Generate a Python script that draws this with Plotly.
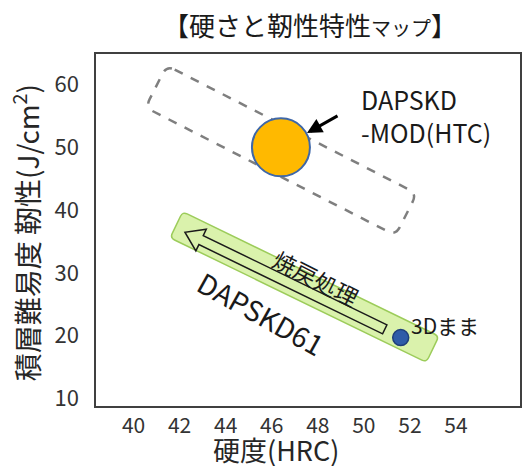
import math
import plotly.graph_objects as go

# ---- data ----
x_ticks = [40, 42, 44, 46, 48, 50, 52, 54]
y_ticks = [10, 20, 30, 40, 50, 60]
mod_hardness = [46.4]
mod_toughness = [50.0]
base_hardness = [51.6]
base_toughness = [19.7]

title_main = "【硬さと靭性特性"
title_small = "マップ"
label_mod = "DAPSKD<br>-MOD(HTC)"
label_61 = "DAPSKD61"
label_temper = "焼戻処理"
label_3d = "3Dまま"
x_title = "硬度(HRC)"
y_title = "積層難易度 靭性(J/cm<sup>2</sup>)"

# ---- layout geometry ----
W, H = 525, 466
ML, MR, MT, MB = 96, 3, 54, 60
XR = [38.37, 56.78]
YR = [8.8, 64.87]
PW = W - ML - MR
PH = H - MT - MB
FONT = "Noto Sans CJK JP"


def to_px(x, y):
    px = ML + (x - XR[0]) / (XR[1] - XR[0]) * PW
    py = MT + (YR[1] - y) / (YR[1] - YR[0]) * PH
    return px, py


def to_data(px, py):
    x = XR[0] + (px - ML) / PW * (XR[1] - XR[0])
    y = YR[1] - (py - MT) / PH * (YR[1] - YR[0])
    return x, y


def pap_x(px):
    return (px - ML) / PW


def pap_y(py):
    return (H - MB - py) / PH


def local_to_data(c, ang, s, t):
    cx, cy = to_px(*c)
    u = (math.cos(math.radians(ang)), math.sin(math.radians(ang)))
    n = (-u[1], u[0])
    return to_data(cx + s * u[0] + t * n[0], cy + s * u[1] + t * n[1])


def rounded_rect_path(c, ang, a, b, r):
    def P(s, t):
        x, y = local_to_data(c, ang, s, t)
        return f"{x:.4f},{y:.4f}"
    p = f"M {P(-a + r, -b)} L {P(a - r, -b)} Q {P(a, -b)} {P(a, -b + r)} "
    p += f"L {P(a, b - r)} Q {P(a, b)} {P(a - r, b)} "
    p += f"L {P(-a + r, b)} Q {P(-a, b)} {P(-a, b - r)} "
    p += f"L {P(-a, -b + r)} Q {P(-a, -b)} {P(-a + r, -b)} Z"
    return p


def block_arrow_path(c, ang, s_tail, s_tip, t0, hw_shaft, hw_head, head_len):
    sb = s_tip + head_len
    pts = [(s_tail, t0 - hw_shaft), (sb, t0 - hw_shaft), (sb, t0 - hw_head),
           (s_tip, t0), (sb, t0 + hw_head), (sb, t0 + hw_shaft), (s_tail, t0 + hw_shaft)]
    out = []
    for i, (s, t) in enumerate(pts):
        x, y = local_to_data(c, ang, s, t)
        out.append(("M " if i == 0 else "L ") + f"{x:.4f},{y:.4f}")
    return " ".join(out) + " Z"


dash_center = to_data(282, 150.5)
band_center = to_data(305.5, 287)

fig = go.Figure()

fig.add_trace(go.Scatter(
    x=mod_hardness, y=mod_toughness, mode="markers",
    marker=dict(size=58, color="#FFB900", line=dict(color="#3E67A8", width=2)),
    hoverinfo="skip", showlegend=False))
fig.add_trace(go.Scatter(
    x=base_hardness, y=base_toughness, mode="markers",
    marker=dict(size=16, color="#2F5CA8", line=dict(color="#1F3F7A", width=1.5)),
    hoverinfo="skip", showlegend=False))

shapes = [
    dict(type="path", path=rounded_rect_path(dash_center, 27, 141, 23.5, 9),
         line=dict(color="#7F7F7F", width=2.5, dash="dash"),
         fillcolor="rgba(0,0,0,0)", layer="below", xref="x", yref="y"),
    dict(type="path", path=rounded_rect_path(band_center, 25.8, 143, 14.5, 5),
         line=dict(color="#9CCC5A", width=1.5),
         fillcolor="#DAF2AC", layer="below", xref="x", yref="y"),
    dict(type="path", path=block_arrow_path(band_center, 25.8, 91, -132, 3, 5, 12, 18),
         line=dict(color="#1A1A1A", width=1.5),
         fillcolor="rgba(0,0,0,0)", layer="below", xref="x", yref="y"),
]

txt = "#1A1A1A"
annotations = [
    dict(x=pap_x(311), y=pap_y(24), xref="paper", yref="paper",
         text=title_main + f"<span style='font-size:20px'>{title_small}</span>】",
         showarrow=False, font=dict(size=26, color=txt, family=FONT),
         xanchor="center", yanchor="middle"),
    dict(x=pap_x(25), y=pap_y(233), xref="paper", yref="paper",
         text=y_title, textangle=-90, showarrow=False,
         font=dict(size=28, color="#262626", family=FONT),
         xanchor="center", yanchor="middle"),
    dict(x=pap_x(277), y=pap_y(449), xref="paper", yref="paper",
         text=x_title, showarrow=False,
         font=dict(size=27, color="#262626", family=FONT),
         xanchor="center", yanchor="middle"),
    dict(x=to_data(360, 115)[0], y=to_data(360, 115)[1], text=label_mod,
         showarrow=False, align="left", xanchor="left", yanchor="middle",
         font=dict(size=25, color=txt, family=FONT)),
    dict(x=to_data(308, 133)[0], y=to_data(308, 133)[1], text="",
         showarrow=True, ax=32, ay=-18, arrowhead=2, arrowsize=1,
         arrowwidth=3, arrowcolor="#000000"),
    dict(x=to_data(262, 313)[0], y=to_data(262, 313)[1], text=label_61,
         textangle=29, showarrow=False,
         font=dict(size=28, color=txt, family=FONT)),
    dict(x=to_data(317, 278)[0], y=to_data(317, 278)[1], text=label_temper,
         textangle=27, showarrow=False,
         font=dict(size=23, color=txt, family=FONT)),
    dict(x=to_data(447, 325)[0], y=to_data(447, 325)[1], text=label_3d,
         showarrow=False, font=dict(size=21, color=txt, family=FONT)),
]

fig.update_layout(
    width=W, height=H, margin=dict(l=ML, r=MR, t=MT, b=MB),
    paper_bgcolor="white", plot_bgcolor="white",
    shapes=shapes, annotations=annotations, showlegend=False,
    font=dict(family=FONT, color="#333333"),
)
fig.update_xaxes(range=XR, tickvals=x_ticks, ticktext=[str(v) for v in x_ticks],
                 showgrid=False, zeroline=False, showline=True, mirror=True,
                 linecolor="#404040", linewidth=1.5,
                 ticks="",
                 tickfont=dict(size=21, color="#333333", family=FONT))
fig.update_yaxes(range=YR, tickvals=y_ticks, ticktext=[str(v) for v in y_ticks],
                 showgrid=False, zeroline=False, showline=True, mirror=True,
                 linecolor="#404040", linewidth=1.5,
                 ticks="outside", ticklen=11, tickcolor="rgba(0,0,0,0)",
                 tickfont=dict(size=22, color="#333333", family=FONT))

fig.write_html("out.html", config={"displayModeBar": False},
               post_script="document.body.style.margin='0';document.body.style.overflow='hidden';")
